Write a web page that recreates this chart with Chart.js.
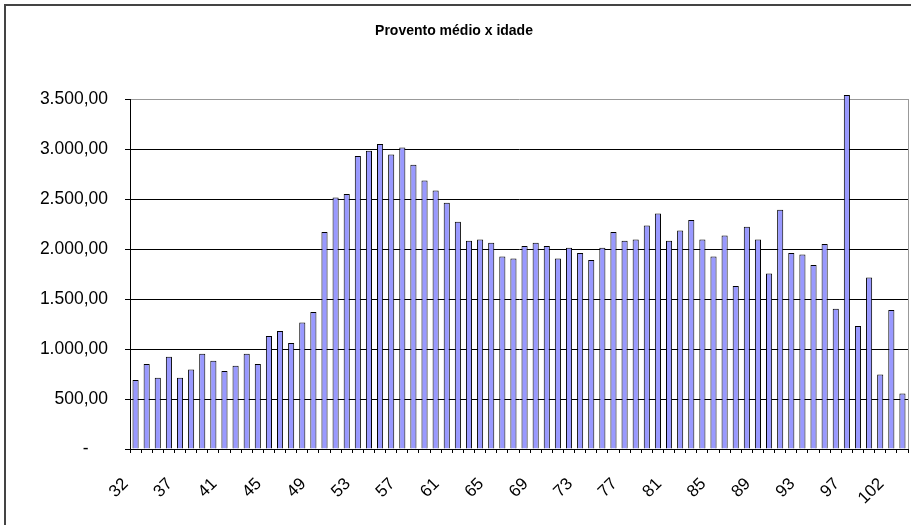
<!DOCTYPE html>
<html>
<head>
<meta charset="utf-8">
<title>Provento médio x idade</title>
<script src="https://cdn.jsdelivr.net/npm/chart.js"></script>
<style>
  html, body { margin: 0; padding: 0; background: #fff; overflow: hidden; }
</style>
</head>
<body>
<canvas id="myChart" width="911" height="525"></canvas>
<script>
const idades = [32, 33, 34, 35, 37, 38, 39, 40, 41, 42, 43, 44, 45, 46, 47, 48, 49, 50, 51, 52,
                53, 54, 55, 56, 57, 58, 59, 60, 61, 62, 63, 64, 65, 66, 67, 68, 69, 70, 71, 72,
                73, 74, 75, 76, 77, 78, 79, 80, 81, 82, 83, 84, 85, 86, 87, 88, 89, 90, 91, 92,
                93, 94, 95, 96, 97, 98, 99, 100, 102, 103];
const provento = [690, 850, 713, 923, 713, 796, 953, 883, 780, 833,
                  953, 850, 1130, 1180, 1060, 1266, 1370, 2170, 2516, 2550,
                  2930, 2983, 3050, 2946, 3016, 2843, 2686, 2586, 2463, 2273,
                  2083, 2096, 2063, 1926, 1906, 2030, 2063, 2030, 1906, 2013,
                  1960, 1890, 2013, 2170, 2083, 2096, 2236, 2356, 2083, 2186,
                  2290, 2096, 1926, 2136, 1630, 2223, 2096, 1756, 2393, 1960,
                  1946, 1840, 2050, 1403, 3540, 1230, 1716, 746, 1390, 556];
const passoRotulo = 4;

function formatoBR(v) {
  if (v === 0) return '-    ';
  const inteiro = Math.round(v).toString().replace(/\B(?=(\d{3})+(?!\d))/g, '.');
  return inteiro + ',00';
}

const moldura = {
  id: 'moldura',
  beforeDraw(chart) {
    const c = chart.ctx;
    c.save();
    c.fillStyle = '#fff';
    c.fillRect(0, 0, chart.width, chart.height);
    c.strokeStyle = '#444';
    c.lineWidth = 2;
    c.strokeRect(5, 5, chart.width + 20, chart.height + 20);
    c.restore();
  },
  afterDraw(chart) {
    const a = chart.chartArea;
    const c = chart.ctx;
    c.save();
    c.strokeStyle = '#999';
    c.lineWidth = 1;
    c.beginPath();
    c.moveTo(Math.round(a.right) + 0.5, a.top);
    c.lineTo(Math.round(a.right) + 0.5, a.bottom);
    c.stroke();
    c.restore();
  }
};

const ctx = document.getElementById('myChart').getContext('2d');
new Chart(ctx, {
  type: 'bar',
  data: {
    labels: idades,
    datasets: [{
      label: 'Provento médio',
      data: provento,
      backgroundColor: '#9999ff',
      borderColor: '#000',
      borderWidth: 1,
      barPercentage: 0.55,
      categoryPercentage: 1.0,
      clip: false
    }]
  },
  options: {
    responsive: false,
    animation: false,
    layout: { padding: { left: 0, right: 3, top: 0, bottom: 0 } },
    plugins: {
      legend: { display: false },
      tooltip: { enabled: false },
      title: {
        display: true,
        text: 'Provento médio x idade',
        color: '#000',
        font: { family: "'Liberation Sans', Arial, sans-serif", size: 14, weight: 'bold' },
        padding: { top: 22.5, bottom: 59.7 }
      }
    },
    scales: {
      x: {
        offset: true,
        grid: {
          display: true,
          offset: true,
          drawOnChartArea: false,
          drawTicks: true,
          tickLength: 4,
          tickColor: '#000'
        },
        border: { display: true, color: '#000', width: 1 },
        ticks: {
          autoSkip: false,
          minRotation: 45,
          maxRotation: 45,
          padding: 11,
          color: '#000',
          font: { family: "'Liberation Sans', Arial, sans-serif", size: 17 },
          callback: function (v, i) { return i % passoRotulo === 0 ? idades[i] + '   ' : ''; }
        },
        afterFit: function (s) {
          s.height = 76;
          s.paddingLeft = 0;
          s.paddingRight = 0;
        }
      },
      y: {
        min: 0,
        max: 3500,
        grid: {
          color: function (c) { return c.tick && c.tick.value === 3500 ? '#999' : '#000'; },
          tickColor: '#000',
          tickLength: 5,
          lineWidth: 1
        },
        border: { display: true, color: '#000', width: 1 },
        ticks: {
          stepSize: 500,
          padding: 17,
          color: '#000',
          font: { family: "'Liberation Sans', Arial, sans-serif", size: 17.5 },
          callback: function (v) { return formatoBR(v); }
        },
        afterFit: function (s) { s.width = 130; }
      }
    }
  },
  plugins: [moldura]
});
</script>
</body>
</html>
